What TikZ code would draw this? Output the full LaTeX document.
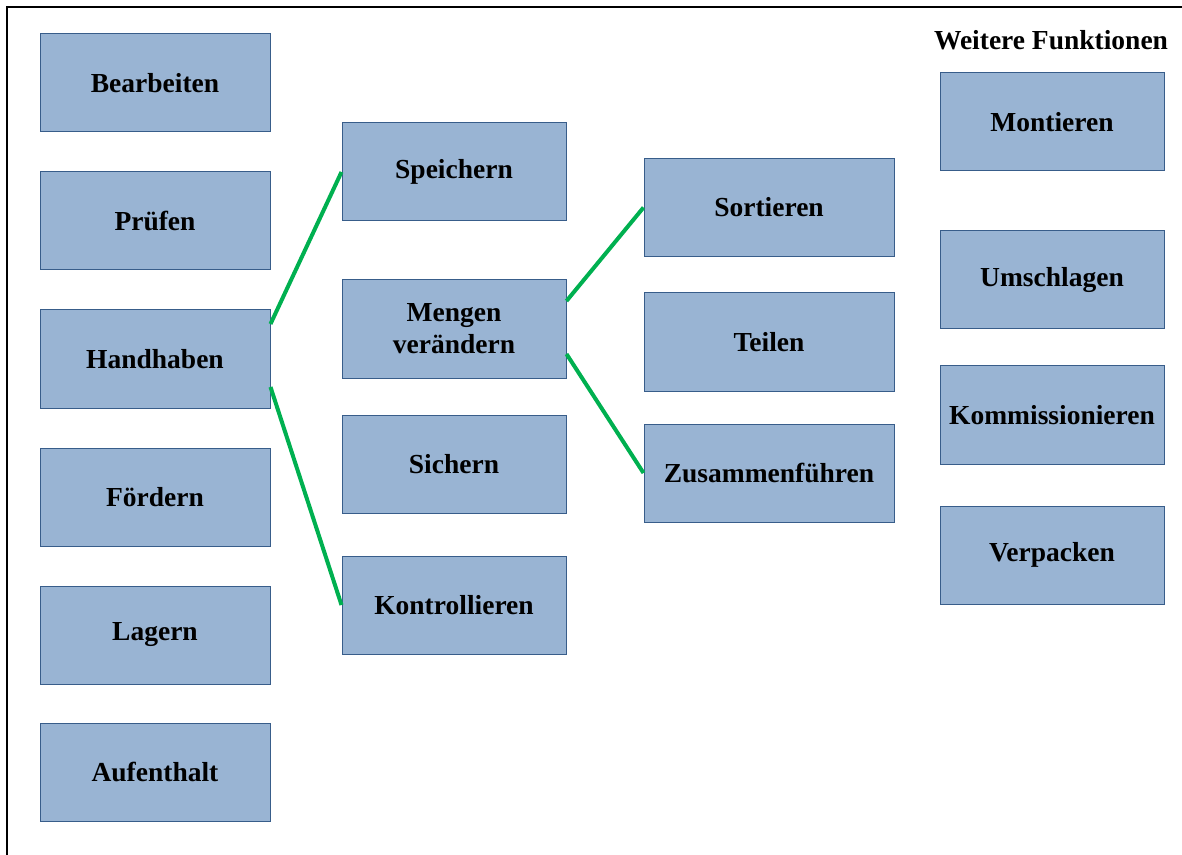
\documentclass[tikz,border=0pt]{standalone}
\usepackage{fontspec}
\setmainfont{Liberation Serif}
\definecolor{boxfill}{HTML}{99B4D3}
\definecolor{boxline}{HTML}{385D8A}
\definecolor{linkgreen}{HTML}{00B050}
\begin{document}
\begin{tikzpicture}[x=0.5pt,y=-0.5pt,
  fbox/.style={draw=boxline, line width=0.5pt, fill=boxfill, inner sep=0pt, align=center,
    minimum height=49pt, font=\fontsize{13.75}{16}\selectfont\bfseries},
  colA/.style={fbox, minimum width=115pt},
  colB/.style={fbox, minimum width=112pt},
  colC/.style={fbox, minimum width=125pt},
  link/.style={draw=linkgreen, line width=2pt}]
\useasboundingbox (0,0) rectangle (1182,855);
\draw[line width=1pt] (7,855) -- (7,7) -- (1182,7);
% column 1
\node[colA] (bear) at (155,83) {Bearbeiten};
\node[colA] (pruef) at (155,221) {Prüfen};
\node[colA] (hand) at (155,359) {Handhaben};
\node[colA] (foerd) at (155,497) {Fördern};
\node[colA] (lag) at (155,635) {Lagern};
\node[colA] (auf) at (155,772) {Aufenthalt};
% column 2
\node[colB] (speich) at (454,172) {Speichern};
\node[colB] (meng) at (454,329) {Mengen\\verändern};
\node[colB] (sich) at (454,464) {Sichern};
\node[colB] (kontr) at (454,605) {Kontrollieren};
% column 3
\node[colC] (sort) at (769,207.5) {Sortieren};
\node[colC] (teil) at (769,342) {Teilen};
\node[colC] (zus) at (769,473) {Zusammenführen};
% column 4
\node[font=\fontsize{13.75}{16}\selectfont\bfseries] (weit) at (1051,40) {Weitere Funktionen};
\node[colB] (mont) at (1052,122) {Montieren};
\node[colB] (umsch) at (1052,280) {Umschlagen};
\node[colB] (komm) at (1052,415) {Kommissionieren};
\node[colB] (verp) at (1052,555) {Verpacken};
% links
\draw[link] ([yshift=17.5pt]hand.east) -- (speich.west);
\draw[link] ([yshift=-14pt]hand.east) -- (kontr.west);
\draw[link] ([yshift=14pt]meng.east) -- (sort.west);
\draw[link] ([yshift=-12.5pt]meng.east) -- (zus.west);
\end{tikzpicture}
\end{document}
